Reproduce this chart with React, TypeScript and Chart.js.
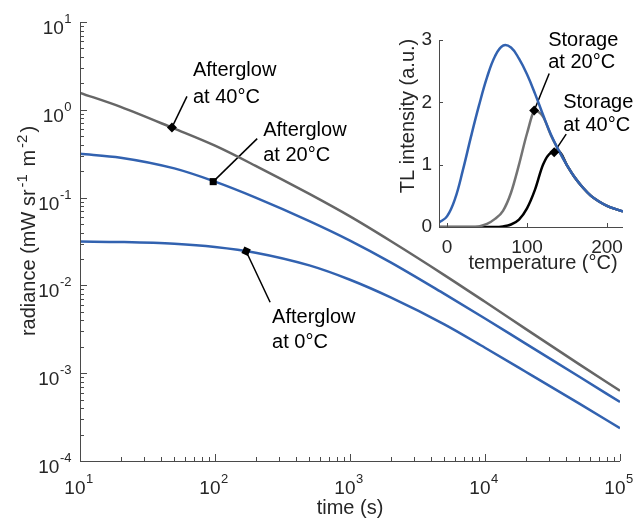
import React, { useEffect, useRef } from 'react';
import { Chart, registerables } from 'chart.js';

Chart.register(...registerables);

// ---------- main chart data (afterglow decay) ----------
const timeS = [10, 20, 50, 100, 200, 500, 1000, 2000, 5000, 10000, 20000, 50000, 100000];
const afterglow40 = [1.56, 1.08, 0.61, 0.39, 0.23, 0.11, 0.061, 0.032, 0.0131, 0.0065, 0.0032, 0.00126, 0.00063];
const afterglow20 = [0.316, 0.285, 0.215, 0.152, 0.1, 0.054, 0.0324, 0.0183, 0.008, 0.0042, 0.00217, 0.00091, 0.00047];
const afterglow0 = [0.0316, 0.0312, 0.0298, 0.0274, 0.0236, 0.0169, 0.0116, 0.0073, 0.0036, 0.00195, 0.00104, 0.00045, 0.000236];
const markerTimes = [48, 97, 170];
const markerRadiance = [0.63, 0.152, 0.0245];
const xTickExps = [1, 2, 3, 4, 5];
const yTickExps = [-4, -3, -2, -1, 0, 1];

// ---------- inset data (TL glow curves) ----------
const tempC = [-10, 0, 10, 20, 30, 40, 50, 60, 70, 80, 90, 100, 110, 120, 130, 140, 150, 160, 170, 180, 190, 200, 210, 220];
const tlNoStorage = [0.07, 0.17, 0.45, 0.92, 1.45, 1.95, 2.4, 2.74, 2.91, 2.88, 2.7, 2.45, 2.14, 1.8, 1.48, 1.22, 0.99, 0.79, 0.63, 0.5, 0.41, 0.34, 0.29, 0.25];
const tlStorage20 = [0, 0, 0, 0, 0, 0.01, 0.05, 0.13, 0.26, 0.55, 1.0, 1.5, 1.86, 1.77, 1.47, 1.22, 0.99, 0.79, 0.63, 0.5, 0.41, 0.34, 0.29, 0.25];
const tlStorage40 = [0, 0, 0, 0, 0, 0, 0, 0, 0.01, 0.04, 0.12, 0.3, 0.6, 1.0, 1.19, 1.21, 0.99, 0.79, 0.63, 0.5, 0.41, 0.34, 0.29, 0.25];
const insetMarkerTemp = [109, 134];
const insetMarkerTL = [1.87, 1.2];
const insetXTicks = [0, 100, 200];
const insetYTicks = [0, 1, 2, 3];

// ---------- styles ----------
const FONT = '"Liberation Sans", Arial, Helvetica, sans-serif';
const GRAY = '#666666';
const GRAY_INSET = '#737373';
const BLUE = '#3262b0';
const AXIS = '#4a4a4a';
const TEXT = '#262626';

type Part = { t: string; sup?: boolean; gap?: number };

function drawParts(ctx: CanvasRenderingContext2D, parts: Part[], x: number, y: number, base: number, sup: number, rise: number, align: 'left' | 'center' | 'right') {
  const widths = parts.map((p) => {
    ctx.font = `${p.sup ? sup : base}px ${FONT}`;
    return ctx.measureText(p.t).width + (p.gap || 0);
  });
  const total = widths.reduce((a, b) => a + b, 0);
  let cx = align === 'left' ? x : align === 'center' ? x - total / 2 : x - total;
  ctx.textAlign = 'left';
  ctx.textBaseline = 'alphabetic';
  parts.forEach((p, i) => {
    ctx.font = `${p.sup ? sup : base}px ${FONT}`;
    ctx.fillText(p.t, cx + (p.gap || 0) / 2, p.sup ? y - rise : y);
    cx += widths[i];
  });
}

const mainNotes = [
  { lines: ['Afterglow', 'at 40°C'], leader: [15, -31], tx: 21, ty: [-51, -24] },
  { lines: ['Afterglow', 'at 20°C'], leader: [44, -43], tx: 50, ty: [-46, -21] },
  { lines: ['Afterglow', 'at 0°C'], leader: [24, 51], tx: 26, ty: [72, 97] },
];
const insetNotes = [
  { lines: ['Storage', 'at 20°C'], leader: [15, -37], tx: 14, ty: [-64, -42] },
  { lines: ['Storage', 'at 40°C'], leader: [12, -18], tx: 9, ty: [-44, -21] },
];

function drawLeaders(chart: any, xs: number[], ys: number[], notes: any[]) {
  const ctx: CanvasRenderingContext2D = chart.ctx;
  ctx.save();
  ctx.strokeStyle = '#000';
  ctx.lineWidth = 1.5;
  notes.forEach((n, i) => {
    const px = chart.scales.x.getPixelForValue(xs[i]);
    const py = chart.scales.y.getPixelForValue(ys[i]);
    ctx.beginPath();
    ctx.moveTo(px, py);
    ctx.lineTo(px + n.leader[0], py + n.leader[1]);
    ctx.stroke();
  });
  ctx.restore();
}

function drawNotes(chart: any, xs: number[], ys: number[], notes: any[]) {
  const ctx: CanvasRenderingContext2D = chart.ctx;
  ctx.save();
  ctx.fillStyle = '#000';
  ctx.font = `20px ${FONT}`;
  ctx.textAlign = 'left';
  ctx.textBaseline = 'alphabetic';
  notes.forEach((n, i) => {
    const px = chart.scales.x.getPixelForValue(xs[i]);
    const py = chart.scales.y.getPixelForValue(ys[i]);
    n.lines.forEach((l: string, k: number) => ctx.fillText(l, px + n.tx, py + n.ty[k]));
  });
  ctx.restore();
}

const mainDecor = {
  id: 'mainDecor',
  beforeDatasetsDraw(chart: any) {
    drawLeaders(chart, markerTimes, markerRadiance, mainNotes);
  },
  afterDraw(chart: any) {
    const ctx: CanvasRenderingContext2D = chart.ctx;
    const xs = chart.scales.x;
    const ys = chart.scales.y;
    const { left, right, top, bottom } = chart.chartArea;
    ctx.save();
    ctx.strokeStyle = AXIS;
    ctx.lineWidth = 1;
    ctx.beginPath();
    ctx.moveTo(left + 0.5, top);
    ctx.lineTo(left + 0.5, bottom + 0.5);
    ctx.lineTo(right, bottom + 0.5);
    ctx.stroke();
    ctx.beginPath();
    xTickExps.forEach((e, idx) => {
      const maxM = idx === xTickExps.length - 1 ? 1 : 9;
      for (let m = 1; m <= maxM; m++) {
        const px = Math.round(xs.getPixelForValue(m * Math.pow(10, e))) + 0.5;
        const len = m === 1 ? 7 : 4;
        ctx.moveTo(px, bottom);
        ctx.lineTo(px, bottom - len);
      }
    });
    yTickExps.forEach((e, idx) => {
      const maxM = idx === yTickExps.length - 1 ? 1 : 9;
      for (let m = 1; m <= maxM; m++) {
        const py = Math.round(ys.getPixelForValue(m * Math.pow(10, e))) + 0.5;
        const len = m === 1 ? 7 : 4;
        ctx.moveTo(left, py);
        ctx.lineTo(left + len, py);
      }
    });
    ctx.stroke();
    ctx.fillStyle = TEXT;
    xTickExps.forEach((e) => {
      const px = xs.getPixelForValue(Math.pow(10, e));
      drawParts(ctx, [{ t: '10' }, { t: String(e), sup: true, gap: 1 }], px - 1, bottom + 33, 19, 13, 11, 'center');
    });
    yTickExps.forEach((e) => {
      const py = ys.getPixelForValue(Math.pow(10, e));
      drawParts(ctx, [{ t: '10' }, { t: String(e), sup: true, gap: 1 }], left - 8, py + 12, 19, 13, 11, 'right');
    });
    ctx.font = `20px ${FONT}`;
    ctx.textAlign = 'center';
    ctx.textBaseline = 'alphabetic';
    ctx.fillText('time (s)', (left + right) / 2, 514);
    ctx.save();
    ctx.translate(35, 231);
    ctx.rotate(-Math.PI / 2);
    drawParts(
      ctx,
      [
        { t: 'radiance (mW sr' },
        { t: '-1', sup: true, gap: 4 },
        { t: ' m' },
        { t: '-2', sup: true, gap: 4 },
        { t: ')' },
      ],
      0, 0, 20, 15, 8, 'center'
    );
    ctx.restore();
    ctx.restore();
    drawNotes(chart, markerTimes, markerRadiance, mainNotes);
  },
};

const insetDecor = {
  id: 'insetDecor',
  beforeDatasetsDraw(chart: any) {
    drawLeaders(chart, insetMarkerTemp, insetMarkerTL, insetNotes);
  },
  afterDraw(chart: any) {
    const ctx: CanvasRenderingContext2D = chart.ctx;
    const xs = chart.scales.x;
    const ys = chart.scales.y;
    const { left, right, top, bottom } = chart.chartArea;
    ctx.save();
    ctx.strokeStyle = AXIS;
    ctx.lineWidth = 1;
    ctx.beginPath();
    ctx.moveTo(left + 0.5, top);
    ctx.lineTo(left + 0.5, bottom + 0.5);
    ctx.lineTo(right, bottom + 0.5);
    insetXTicks.forEach((v) => {
      const px = Math.round(xs.getPixelForValue(v)) + 0.5;
      ctx.moveTo(px, bottom);
      ctx.lineTo(px, bottom - 4);
    });
    insetYTicks.forEach((v) => {
      const py = Math.round(ys.getPixelForValue(v)) + 0.5;
      ctx.moveTo(left, py);
      ctx.lineTo(left + 4, py);
    });
    ctx.stroke();
    ctx.fillStyle = TEXT;
    ctx.font = `19px ${FONT}`;
    ctx.textAlign = 'center';
    ctx.textBaseline = 'alphabetic';
    insetXTicks.forEach((v) => ctx.fillText(String(v), xs.getPixelForValue(v), bottom + 26));
    ctx.textAlign = 'right';
    ctx.textBaseline = 'middle';
    insetYTicks.forEach((v) => ctx.fillText(String(v), left - 7, ys.getPixelForValue(v)));
    ctx.font = `20px ${FONT}`;
    ctx.textAlign = 'center';
    ctx.textBaseline = 'alphabetic';
    ctx.fillText('temperature (°C)', 543, bottom + 42);
    ctx.save();
    ctx.translate(414, 116);
    ctx.rotate(-Math.PI / 2);
    ctx.fillText('TL intensity (a.u.)', 0, 0);
    ctx.restore();
    ctx.restore();
    drawNotes(chart, insetMarkerTemp, insetMarkerTL, insetNotes);
  },
};

const hiddenAxis = {
  display: false,
  grid: { display: false, drawTicks: false, tickLength: 0 },
  ticks: { display: false, padding: 0 },
  border: { display: false },
};

export default function App() {
  const mainRef = useRef<HTMLCanvasElement>(null);
  const insetRef = useRef<HTMLCanvasElement>(null);

  useEffect(() => {
    document.body.style.margin = '0';
    const lineDs = (label: string, xs: number[], ys: number[], color: string, smooth: 'monotone' | 'tension' = 'monotone') => ({
      label,
      data: xs.map((x, i) => ({ x, y: ys[i] })),
      showLine: true,
      borderColor: color,
      borderWidth: 2.5,
      pointRadius: 0,
      fill: false,
      ...(smooth === 'monotone' ? { cubicInterpolationMode: 'monotone' as const } : { tension: 0.4 }),
    });
    const main = new Chart(mainRef.current!, {
      type: 'scatter',
      data: {
        datasets: [
          {
            label: 'markers',
            data: markerTimes.map((x, i) => ({ x, y: markerRadiance[i] })),
            showLine: false,
            pointStyle: ['rectRot', 'rect', 'rect'] as any,
            pointRotation: [0, 0, 25] as any,
            pointRadius: [5, 5, 5] as any,
            backgroundColor: '#000',
            borderColor: '#000',
            borderWidth: 0,
          } as any,
          lineDs('Afterglow at 40°C', timeS, afterglow40, GRAY),
          lineDs('Afterglow at 20°C', timeS, afterglow20, BLUE),
          lineDs('Afterglow at 0°C', timeS, afterglow0, BLUE),
        ],
      },
      options: {
        responsive: false,
        animation: false,
        layout: { padding: { left: 80, right: 16, top: 22, bottom: 62 } },
        plugins: { legend: { display: false }, tooltip: { enabled: false } },
        scales: {
          x: { type: 'logarithmic', min: 10, max: 100000, ...hiddenAxis } as any,
          y: { type: 'logarithmic', min: 0.0001, max: 10, ...hiddenAxis } as any,
        },
      },
      plugins: [mainDecor],
    });
    const inset = new Chart(insetRef.current!, {
      type: 'scatter',
      data: {
        datasets: [
          {
            label: 'markers',
            data: insetMarkerTemp.map((x, i) => ({ x, y: insetMarkerTL[i] })),
            showLine: false,
            pointStyle: 'rectRot',
            pointRadius: 5,
            backgroundColor: '#000',
            borderColor: '#000',
            borderWidth: 0,
          } as any,
          lineDs('No storage', tempC, tlNoStorage, BLUE, 'tension'),
          lineDs('Storage at 20°C', tempC, tlStorage20, GRAY_INSET),
          lineDs('Storage at 40°C', tempC, tlStorage40, '#000000'),
        ],
      },
      options: {
        responsive: false,
        animation: false,
        layout: { padding: { left: 439, right: 13, top: 40, bottom: 296 } },
        plugins: { legend: { display: false }, tooltip: { enabled: false } },
        scales: {
          x: { type: 'linear', min: -10, max: 220, ...hiddenAxis } as any,
          y: { type: 'linear', min: 0, max: 3, ...hiddenAxis } as any,
        },
      },
      plugins: [insetDecor],
    });
    return () => {
      main.destroy();
      inset.destroy();
    };
  }, []);

  return (
    <div style={{ position: 'relative', width: 636, height: 523, background: '#fff' }}>
      <canvas ref={mainRef} width={636} height={523} style={{ position: 'absolute', left: 0, top: 0 }} />
      <canvas ref={insetRef} width={636} height={523} style={{ position: 'absolute', left: 0, top: 0 }} />
    </div>
  );
}
